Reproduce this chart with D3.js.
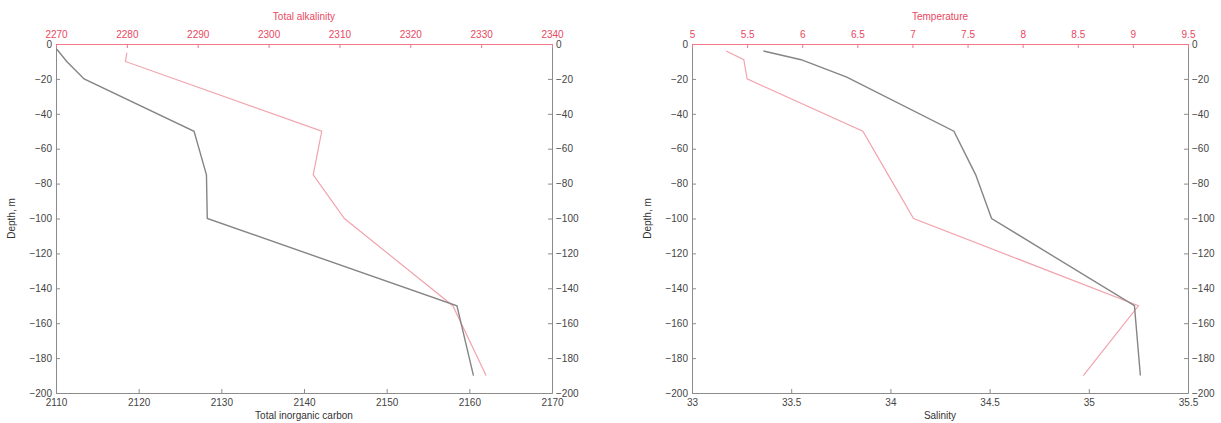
<!DOCTYPE html>
<html>
<head>
<meta charset="utf-8">
<script src="https://cdn.jsdelivr.net/npm/d3@7"></script>
<style>
  body { margin: 0; background: #fff; }
  svg { font-family: "Liberation Sans", Arial, sans-serif; }
  .tick text { font-size: 10px; fill: #444; }
  .axis path, .axis line { stroke: #8c8c8c; }
  .red .tick text { fill: #e8485f; }
  .red path, .red line { stroke: #f07888; }
</style>
</head>
<body>
<div id="chart"></div>
<script>
(function () {

  // left panel: total inorganic carbon (bottom) / total alkalinity (top)
  var ticDepth = [-3, -10, -20, -50, -75, -100, -150, -190]
  var ticValues = [2110.1, 2111.3, 2113.4, 2126.7, 2128.2, 2128.3, 2158.5, 2160.5]
  var taDepth = [-5, -10, -50, -75, -100, -150, -190]
  var taValues = [2280.0, 2279.8, 2307.5, 2306.3, 2310.7, 2326.0, 2330.7]

  // right panel: salinity (bottom) / temperature (top)
  var salDepth = [-4, -9, -19, -50, -75, -100, -150, -190]
  var salValues = [33.36, 33.55, 33.78, 34.32, 34.43, 34.51, 35.23, 35.26]
  var tempDepth = [-4, -9, -20, -50, -75, -100, -150, -190]
  var tempValues = [5.31, 5.47, 5.50, 6.55, 6.78, 7.01, 9.05, 8.55]

  var depthTicks = [0, -20, -40, -60, -80, -100, -120, -140, -160, -180, -200]
  var ticTicks = [2110, 2120, 2130, 2140, 2150, 2160, 2170]
  var taTicks = [2270, 2280, 2290, 2300, 2310, 2320, 2330, 2340]
  var salTicks = [33, 33.5, 34, 34.5, 35, 35.5]
  var tempTicks = [5, 5.5, 6, 6.5, 7, 7.5, 8, 8.5, 9, 9.5]

  var W = 1221, H = 423
  var plotW = 496, plotH = 349, top = 44

  var svg = d3.select("#chart").append("svg")
      .attr("width", W)
      .attr("height", H)

  var panels = [
    { left: 56, bottomLabel: "Total inorganic carbon", topLabel: "Total alkalinity",
      bDomain: [2110, 2170], tDomain: [2270, 2340], bTicks: ticTicks, tTicks: taTicks,
      bDepth: ticDepth, bVals: ticValues, tDepth: taDepth, tVals: taValues,
      bFmt: d3.format("d"), tFmt: d3.format("d") },
    { left: 692, bottomLabel: "Salinity", topLabel: "Temperature",
      bDomain: [33, 35.5], tDomain: [5, 9.5], bTicks: salTicks, tTicks: tempTicks,
      bDepth: salDepth, bVals: salValues, tDepth: tempDepth, tVals: tempValues,
      bFmt: function(d) { return String(d) }, tFmt: function(d) { return String(d) } }
  ]

  panels.forEach(function(p) {
    var g = svg.append("g")
        .attr("transform", "translate(" + p.left + "," + top + ")")

    var x = d3.scaleLinear().domain(p.bDomain).range([0, plotW])
    var xTop = d3.scaleLinear().domain(p.tDomain).range([0, plotW])
    var y = d3.scaleLinear().domain([0, -200]).range([0, plotH])

    g.append("rect")
      .attr("width", plotW)
      .attr("height", plotH)
      .attr("fill", "#fff")

    g.append("g")
      .attr("class", "axis")
      .attr("transform", "translate(0," + plotH + ")")
      .call(d3.axisBottom(x).tickValues(p.bTicks).tickFormat(p.bFmt)
        .tickSizeInner(-4).tickSizeOuter(0).tickPadding(6))

    g.append("g")
      .attr("class", "axis")
      .call(d3.axisLeft(y).tickValues(depthTicks)
        .tickSizeInner(-4).tickSizeOuter(0).tickPadding(4))

    g.append("g")
      .attr("class", "axis")
      .attr("transform", "translate(" + plotW + ",0)")
      .call(d3.axisRight(y).tickValues(depthTicks)
        .tickSizeInner(-4).tickSizeOuter(0).tickPadding(4))

    g.append("g")
      .attr("class", "axis red")
      .call(d3.axisTop(xTop).tickValues(p.tTicks).tickFormat(p.tFmt)
        .tickSizeInner(-4).tickSizeOuter(0).tickPadding(6))

    g.selectAll(".tick text").style("font-size", "10px")

    var lineB = d3.line()
      .x(function(d, i) { return x(p.bVals[i]) })
      .y(function(d) { return y(d) })
    var lineT = d3.line()
      .x(function(d, i) { return xTop(p.tVals[i]) })
      .y(function(d) { return y(d) })

    g.append("path")
      .attr("d", lineT(p.tDepth))
      .attr("fill", "none")
      .attr("stroke", "#f2a3ad")
      .attr("stroke-width", 1.2)

    g.append("path")
      .attr("d", lineB(p.bDepth))
      .attr("fill", "none")
      .attr("stroke", "#858585")
      .attr("stroke-width", 1.4)

    g.append("text")
      .attr("x", plotW / 2)
      .attr("y", plotH + 26)
      .attr("text-anchor", "middle")
      .attr("font-size", "10px")
      .attr("fill", "#333")
      .text(p.bottomLabel)

    g.append("text")
      .attr("x", plotW / 2)
      .attr("y", -24)
      .attr("text-anchor", "middle")
      .attr("font-size", "10px")
      .attr("fill", "#e8485f")
      .text(p.topLabel)

    g.append("text")
      .attr("transform", "translate(-41," + (plotH / 2) + ") rotate(-90)")
      .attr("text-anchor", "middle")
      .attr("font-size", "10px")
      .attr("fill", "#333")
      .text("Depth, m")
  })

})()
</script>
</body>
</html>
